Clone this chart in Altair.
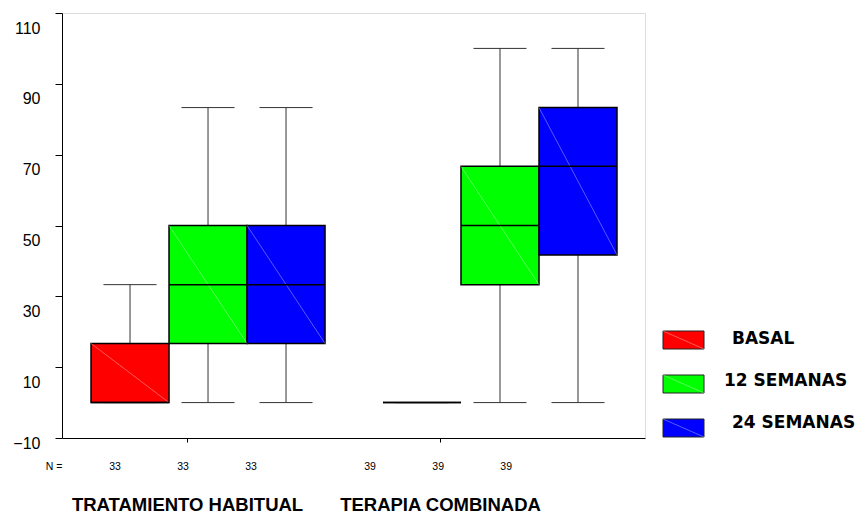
import altair as alt
import pandas as pd

# ---------------- data ----------------
groups = ["TRATAMIENTO HABITUAL", "TERAPIA COMBINADA"]
series = ["BASAL", "12 SEMANAS", "24 SEMANAS"]
colors = ["#FF0000", "#00FF00", "#0000FF"]
n_counts = [[33, 33, 33], [39, 39, 39]]
whisker_low = [[0, 0, 0], [0, 0, 0]]
q1 = [[0, 16.7, 16.7], [0, 33.3, 41.7]]
median = [[0, 33.3, 33.3], [0, 50, 66.7]]
q3 = [[16.7, 50, 50], [0, 66.7, 83.3]]
whisker_high = [[33.3, 83.3, 83.3], [0, 100, 100]]
y_ticks = [-10, 10, 30, 50, 70, 90, 110]

# ---------------- layout (x in "box width" units) ----------------
W, H = 583, 425
x_extent = 7.474
group_first_slot = [0.872, 4.615]
group_tick_slot = [1.603, 4.846]
n_first_slot = [0.68, 3.95]
n_step = 0.872
box_half = 0.5
cap_half = 0.34

rows = []
for g in range(len(groups)):
    for s in range(len(series)):
        c = group_first_slot[g] + s
        rows.append(dict(
            group=groups[g], series=series[s], c=c,
            left=c - box_half, right=c + box_half,
            capl=c - cap_half, capr=c + cap_half,
            lo=whisker_low[g][s], q1=q1[g][s], med=median[g][s],
            q3=q3[g][s], hi=whisker_high[g][s],
            n=str(n_counts[g][s]), nx=n_first_slot[g] + s * n_step,
        ))
df = pd.DataFrame(rows)

label_expr = f"datum.value < 3 ? '{groups[0]}' : '{groups[1]}'"
xscale = alt.Scale(domain=[0, x_extent], nice=False, zero=False)
yscale = alt.Scale(domain=[-10, 110], nice=False, zero=False)
xaxis = alt.Axis(values=group_tick_slot, labelExpr=label_expr, title=None,
                 grid=False, tickSize=4, labelPadding=62, labelBaseline="middle",
                 labelFont="Liberation Sans", labelFontSize=18.5, labelFontWeight="bold",
                 labelColor="black", labelLimit=400, labelFlush=False,
                 domainColor="black", tickColor="black")
yaxis = alt.Axis(values=y_ticks, title=None, grid=False, tickSize=7, labelPadding=15,
                 labelFont="Liberation Sans", labelFontSize=16, labelColor="black",
                 labelOffset={"condition": {"test": "datum.value == -10", "value": 5}, "value": 15},
                 domainColor="black", tickColor="black")

base = alt.Chart(df)
color = alt.Color("series:N", scale=alt.Scale(domain=series, range=colors), legend=None)

wh_low = base.mark_rule(color="#333", strokeWidth=1).encode(
    x=alt.X("c:Q", scale=xscale, axis=xaxis),
    y=alt.Y("lo:Q", scale=yscale, axis=yaxis), y2="q1:Q")
wh_high = base.mark_rule(color="#333", strokeWidth=1).encode(
    x=alt.X("c:Q", scale=xscale, axis=xaxis),
    y=alt.Y("q3:Q", scale=yscale, axis=yaxis), y2="hi:Q")
cap_low = base.mark_rule(color="#333", strokeWidth=1).encode(
    x=alt.X("capl:Q", scale=xscale, axis=xaxis), x2="capr:Q",
    y=alt.Y("lo:Q", scale=yscale, axis=yaxis))
cap_high = base.mark_rule(color="#333", strokeWidth=1).encode(
    x=alt.X("capl:Q", scale=xscale, axis=xaxis), x2="capr:Q",
    y=alt.Y("hi:Q", scale=yscale, axis=yaxis))
boxes = base.mark_rect(stroke="black", strokeWidth=1.5).encode(
    x=alt.X("left:Q", scale=xscale, axis=xaxis), x2="right:Q",
    y=alt.Y("q1:Q", scale=yscale, axis=yaxis), y2="q3:Q",
    fill=color)
diag = base.mark_rule(color="white", strokeWidth=1, opacity=0.35).encode(
    x=alt.X("left:Q", scale=xscale, axis=xaxis), x2="right:Q",
    y=alt.Y("q3:Q", scale=yscale, axis=yaxis), y2="q1:Q")
med = base.mark_rule(color="black", strokeWidth=1.5).encode(
    x=alt.X("left:Q", scale=xscale, axis=xaxis), x2="right:Q",
    y=alt.Y("med:Q", scale=yscale, axis=yaxis))
n_text = base.mark_text(font="Liberation Sans", fontSize=10.5, color="black",
                        baseline="middle", align="center").encode(
    x=alt.X("nx:Q", scale=xscale, axis=xaxis), y=alt.value(H + 29), text="n:N")
n_head = alt.Chart(pd.DataFrame({"t": ["N ="]})).mark_text(
    font="Liberation Sans", fontSize=10.5, color="black", baseline="middle", align="center"
).encode(x=alt.value(-8), y=alt.value(H + 29), text="t:N")

# ---------------- legend (pixel positions computed from item index) ----------------
leg_rows = []
leg_text_dx = [8, 0, 8]
for i, s in enumerate(series):
    top = 318 + i * 44
    leg_rows.append(dict(series=s, lx=601, lx2=642, ly=top, ly2=top + 18,
                         tx=662 + leg_text_dx[i], ty=326 + i * 42))
leg = pd.DataFrame(leg_rows)
lbase = alt.Chart(leg)
leg_rect = lbase.mark_rect(stroke="#222", strokeWidth=1).encode(
    x=alt.X("lx:Q", scale=None, axis=None), x2="lx2:Q",
    y=alt.Y("ly:Q", scale=None, axis=None), y2="ly2:Q", fill=color)
leg_diag = lbase.mark_rule(color="white", strokeWidth=1, opacity=0.35).encode(
    x=alt.X("lx:Q", scale=None, axis=None), x2="lx2:Q",
    y=alt.Y("ly:Q", scale=None, axis=None), y2="ly2:Q")
leg_text = lbase.mark_text(font="DejaVu Sans", fontSize=17, fontWeight="bold",
                           color="black", align="left", baseline="middle").encode(
    x=alt.X("tx:Q", scale=None, axis=None),
    y=alt.Y("ty:Q", scale=None, axis=None), text="series:N")

chart = alt.layer(
    wh_low, wh_high, cap_low, cap_high, boxes, diag, med, n_text, n_head,
    leg_rect, leg_diag, leg_text
).properties(
    width=W, height=H,
    autosize=alt.AutoSizeParams(type="none"),
    padding={"left": 54, "top": 5, "right": 214, "bottom": 80},
).configure_view(stroke="black", strokeWidth=1).configure(background="white")

chart.save("out.html", embed_options={"renderer": "svg", "actions": False})
